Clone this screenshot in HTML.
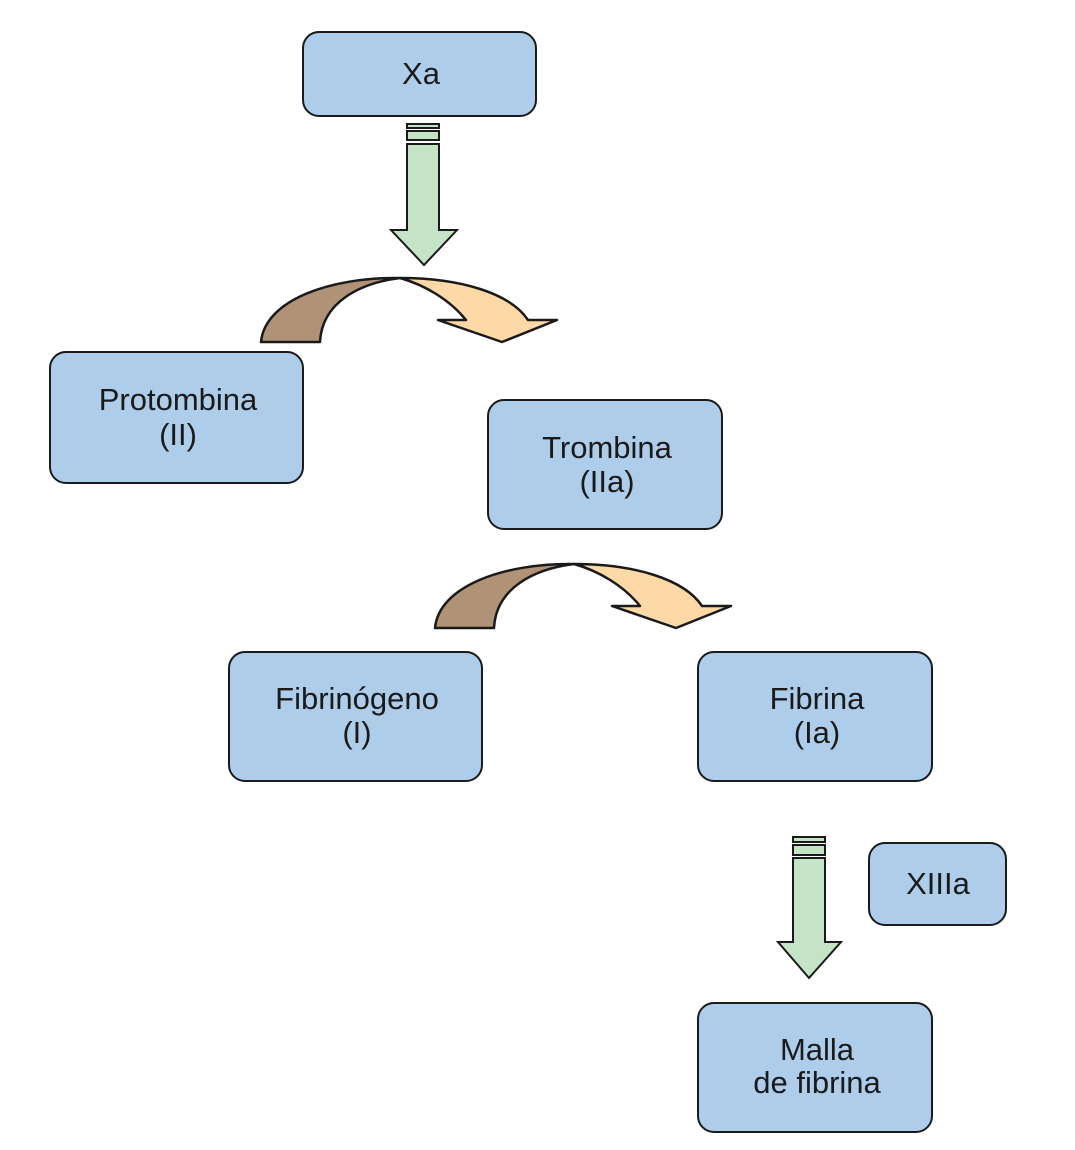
<!DOCTYPE html>
<html><head><meta charset="utf-8"><style>
html,body{margin:0;padding:0;background:#fff}
svg{display:block}
text{font-family:"Liberation Sans Narrow","Liberation Sans",sans-serif;font-size:31px;fill:#1a1a1a;text-anchor:middle}
</style></head><body>
<svg width="1075" height="1150" viewBox="0 0 1075 1150" xmlns="http://www.w3.org/2000/svg">
<g fill="#aecdea" stroke="#1a1a1a" stroke-width="2">
<rect x="303" y="32" width="233" height="84" rx="16"/>
<rect x="50" y="352" width="253" height="131" rx="16"/>
<rect x="488" y="400" width="234" height="129" rx="16"/>
<rect x="229" y="652" width="253" height="129" rx="16"/>
<rect x="698" y="652" width="234" height="129" rx="16"/>
<rect x="869" y="843" width="137" height="82" rx="16"/>
<rect x="698" y="1003" width="234" height="129" rx="16"/>
</g>
<g fill="#c5e3c6" stroke="#1a1a1a" stroke-width="2">
<rect x="407" y="124" width="32" height="4"/>
<rect x="407" y="131" width="32" height="9"/>
<path d="M407,144 L439,144 L439,230 L457,230 L424,265 L391,230 L407,230 Z"/>
<rect x="793" y="837" width="32" height="5"/>
<rect x="793" y="845" width="32" height="10"/>
<path d="M793,858 L825,858 L825,942 L841,942 L809,978 L778,942 L793,942 Z"/>
</g>
<g id="ca" stroke="#1a1a1a" stroke-width="2.5" stroke-linejoin="round">
<path fill="#b09276" d="M261,342 C265,300 330,277 400,278 C360,283 322,302 320,342 Z"/>
<path fill="#fcd9a6" d="M400,278 C460,278 510,293 528,320 L557,320 L502,342 L438,320 L466,320 C450,300 425,285 400,278 Z"/>
</g>
<use href="#ca" transform="translate(174,286)"/>
<text x="421" y="84">Xa</text>
<text x="178" y="410">Protombina</text>
<text x="178" y="445">(II)</text>
<text x="607" y="458">Trombina</text>
<text x="607" y="492">(IIa)</text>
<text x="357" y="709">Fibrinógeno</text>
<text x="357" y="743">(I)</text>
<text x="817" y="709">Fibrina</text>
<text x="817" y="743">(Ia)</text>
<text x="938" y="894">XIIIa</text>
<text x="817" y="1060">Malla</text>
<text x="817" y="1093">de fibrina</text>
</svg>
</body></html>
